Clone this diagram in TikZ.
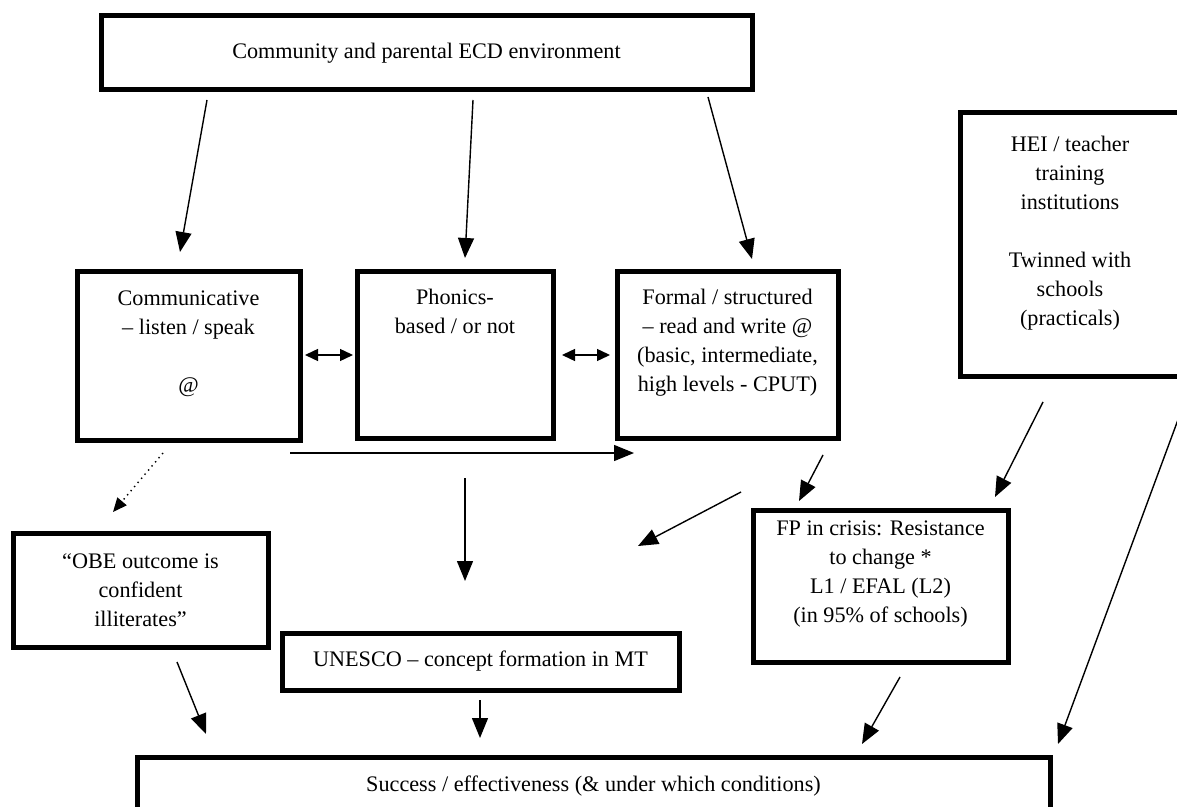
\documentclass[tikz,border=0pt]{standalone}
\usepackage{fontspec}
\setmainfont{Liberation Serif}
\usetikzlibrary{arrows.meta}
\begin{document}
\begin{tikzpicture}[x=0.5pt,y=-0.5pt,
  box/.style={draw, line width=2.5pt, align=center, inner sep=0pt, outer sep=0pt,
    font=\fontsize{11.1}{14.5}\selectfont, anchor=north west},
  arr/.style={line width=0.7pt, -{Triangle[length=10pt,width=8pt]}},
  darr/.style={line width=0.7pt, {Triangle[length=6.5pt,width=6pt]}-{Triangle[length=6.5pt,width=6pt]}},
  dotarr/.style={line width=0.7pt, dotted, -{Triangle[length=7pt,width=6pt]}}
]
\useasboundingbox (0,0) rectangle (1177,807);
\clip (0,0) rectangle (1177,807);
\fill[white] (0,0) rectangle (1177,807);

% boxes
\node[box, minimum width=325.5pt, minimum height=37pt] (env) at (101,16)
  {Community and parental ECD environment};
\node[box, minimum width=111.5pt, minimum height=84pt] (comm) at (77,272)
  {Communicative\\– listen / speak\\~\\@\\~};
\node[box, minimum width=98pt, minimum height=83pt] (phon) at (357,272)
  {Phonics-\\based / or not\\~\\~\\~};
\node[box, minimum width=110.5pt, minimum height=83pt] (form) at (617,272)
  {Formal / structured\\– read and write @\\(basic, intermediate,\\high levels - CPUT)\\~};
\node[box, minimum width=110pt, minimum height=132pt] (hei) at (960,113)
  {HEI / teacher\\training\\institutions\\~\\Twinned with\\schools\\(practicals)\\~};
\node[box, minimum width=127.5pt, minimum height=57pt] (obe) at (13,533)
  {“OBE outcome is\\confident\\illiterates”};
\node[box, minimum width=198.5pt, minimum height=28.5pt] (unesco) at (282,633)
  {UNESCO – concept formation in MT};
\node[box, minimum width=127.5pt, minimum height=76pt] (fp) at (753,510)
  {FP in crisis: Resistance\\to change *\\L1 / EFAL (L2)\\(in 95\% of schools)\\~};
\node[box, minimum width=456.5pt, minimum height=29pt] (succ) at (137,757)
  {Success / effectiveness (\& under which conditions)};

% connector end points
\coordinate (a1s) at (207,100); \coordinate (a1e) at (180,252);
\coordinate (a2s) at (473,100); \coordinate (a2e) at (465,258);
\coordinate (a3s) at (708,97);  \coordinate (a3e) at (752,259);
\coordinate (d1s) at (305,355); \coordinate (d1e) at (353,355);
\coordinate (d2s) at (562,355); \coordinate (d2e) at (610,355);
\coordinate (hs) at (290,453);  \coordinate (he) at (634,453);
\coordinate (dts) at (163,453); \coordinate (dte) at (113,512);
\coordinate (vs) at (465,478);  \coordinate (ve) at (465,581);
\coordinate (fus) at (741,492); \coordinate (fue) at (638,546);
\coordinate (frs) at (823,455); \coordinate (fre) at (799,501);
\coordinate (hfs) at (1043,402);\coordinate (hfe) at (995,497);
\coordinate (hls) at (1179,417);\coordinate (hle) at (1058,744);
\coordinate (os) at (177,662);  \coordinate (oe) at (206,734);
\coordinate (us) at (480,700);  \coordinate (ue) at (480,738);
\coordinate (ps) at (900,677);  \coordinate (pe) at (862,744);

\draw[arr] (a1s) -- (a1e);
\draw[arr] (a2s) -- (a2e);
\draw[arr] (a3s) -- (a3e);
\draw[darr] (d1s) -- (d1e);
\draw[darr] (d2s) -- (d2e);
\draw[arr] (hs) -- (he);
\draw[dotarr] (dts) -- (dte);
\draw[arr] (vs) -- (ve);
\draw[arr] (fus) -- (fue);
\draw[arr] (frs) -- (fre);
\draw[arr] (hfs) -- (hfe);
\draw[arr] (hls) -- (hle);
\draw[arr] (os) -- (oe);
\draw[arr] (us) -- (ue);
\draw[arr] (ps) -- (pe);
\end{tikzpicture}
\end{document}
